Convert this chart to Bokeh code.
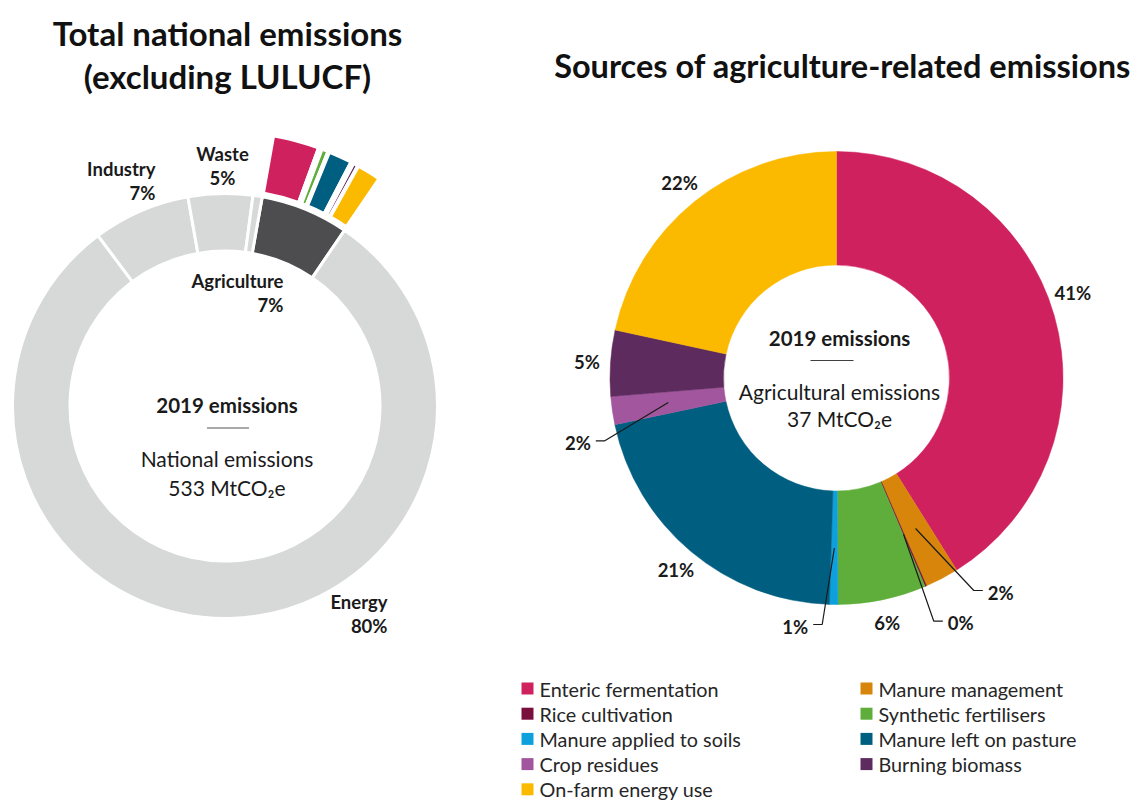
import numpy as np
from bokeh.plotting import figure
from bokeh.models import Range1d
from bokeh.embed import file_html
from bokeh.resources import INLINE
from bokeh.core.properties import value

# ---------------- data ----------------
national_sectors = ["Agriculture", "Energy", "Industry", "Waste", "Other"]
national_shares = [6.7, 80.3, 7.4, 4.9, 0.7]          # % of national emissions
national_pct_labels = ["7%", "80%", "7%", "5%", ""]
national_total = 533   # MtCO2e
ag_total = 37          # MtCO2e
year = 2019

ag_sources = ["Enteric fermentation", "Manure management", "Rice cultivation",
              "Synthetic fertilisers", "Manure applied to soils", "Manure left on pasture",
              "Crop residues", "Burning biomass", "On-farm energy use"]
ag_shares = [41.1, 2.4, 0.1, 6.3, 0.6, 21.2, 2.0, 4.7, 21.6]   # % of agriculture emissions
ag_pct_labels = ["41%", "2%", "0%", "6%", "1%", "21%", "2%", "5%", "22%"]

# ---------------- styles / layout ----------------
W, H = 1134, 803
FONT = "Lato"
LIGHT = "#D7D8D8"
DARK = "#4D4D4F"
TXT = "#1a1a1a"
national_colors = [DARK, LIGHT, LIGHT, LIGHT, LIGHT]
ag_colors = ["#D0215F", "#D8860B", "#7A0E3C", "#5FAE3B", "#0EA0DC",
             "#005E80", "#A2569E", "#5E2B5E", "#FBBA00"]


def Y(py):
    return H - py


p = figure(width=W, height=H, x_range=Range1d(0, W), y_range=Range1d(0, H),
           output_backend="svg", toolbar_location=None, min_border=0)
p.axis.visible = False
p.grid.visible = False
p.outline_line_color = None
p.background_fill_color = "white"


def wedge_angles(shares, start_cw, span=360.0):
    shares = np.asarray(shares, dtype=float)
    cum = np.concatenate([[0], np.cumsum(shares)]) / shares.sum() * span
    return start_cw + cum[:-1], start_cw + cum[1:]


def to_bokeh(cw1, cw2):
    return np.radians(90 - cw2), np.radians(90 - cw1)


# ---------------- left donut ----------------
LCX, LCY = 224.5, 405.5
L_IN, L_OUT = 155, 212.5
n_cw1, n_cw2 = wedge_angles(national_shares, 10.1, 360.0 * sum(national_shares) / 100)
sa, ea = to_bokeh(n_cw1, n_cw2)
p.annular_wedge(x=[LCX] * len(national_shares), y=[Y(LCY)] * len(national_shares),
                inner_radius=L_IN, outer_radius=L_OUT, start_angle=sa, end_angle=ea,
                fill_color=national_colors, line_color="white", line_width=3)

# exploded agriculture breakdown
ag_i = national_sectors.index("Agriculture")
e_cw1, e_cw2 = wedge_angles(ag_shares, n_cw1[ag_i], n_cw2[ag_i] - n_cw1[ag_i])
sa, ea = to_bokeh(e_cw1, e_cw2)
p.annular_wedge(x=[LCX] * len(ag_shares), y=[Y(LCY)] * len(ag_shares),
                inner_radius=216, outer_radius=275, start_angle=sa, end_angle=ea,
                fill_color=ag_colors, line_color="white", line_width=4)

# sector labels (name line + percentage line)
lab_pos = {  # anchor x, first-line y, align
    "Industry": (155, 168, "right"),
    "Waste": (222, 153, "center"),
    "Agriculture": (283, 280, "right"),
    "Energy": (387, 601, "right"),
}
for name, pct in zip(national_sectors, national_pct_labels):
    if name not in lab_pos:
        continue
    x, y, al = lab_pos[name]
    p.text(x=[x, x], y=[Y(y), Y(y + 24.5)], text=[name, pct], text_align=al,
           text_baseline="middle", text_font=value(FONT), text_font_style="bold",
           text_font_size="18.5px", text_color=TXT)

# center text left
p.text(x=[LCX + 2], y=[Y(404)], text=[f"{year} emissions"], text_align="center",
       text_baseline="middle", text_font=value(FONT), text_font_style="bold",
       text_font_size="20.5px", text_color=TXT)
p.segment(x0=[LCX - 18], y0=[Y(427.5)], x1=[LCX + 24], y1=[Y(427.5)],
          line_color="#8c8c8c", line_width=1.5)
p.text(x=[LCX + 2, LCX + 2], y=[Y(458), Y(487)],
       text=["National emissions", f"{national_total} MtCO\u2082e"], text_align="center",
       text_baseline="middle", text_font=value(FONT), text_font_size="21px",
       text_color=TXT)

# ---------------- right donut ----------------
RCX, RCY = 836, 377.5
R_IN, R_OUT = 113, 226.5
r_cw1, r_cw2 = wedge_angles(ag_shares, 0.0)
sa, ea = to_bokeh(r_cw1, r_cw2)
p.annular_wedge(x=[RCX] * len(ag_shares), y=[Y(RCY)] * len(ag_shares),
                inner_radius=R_IN, outer_radius=R_OUT, start_angle=sa, end_angle=ea,
                fill_color=ag_colors, line_color=ag_colors, line_width=0.5)

mid = np.radians((r_cw1 + r_cw2) / 2)
# leader-line labels: elbow offset from centre (px, screen), horizontal direction
leaders = {1: (137.3, 212.5, 1), 2: (97.3, 243.2, 1), 4: (-14.3, 246.5, -1), 6: (-231.7, 62.8, -1)}
label_nudge = {0: (-4, -16)}
for i, lab in enumerate(ag_pct_labels):
    if i in leaders:
        ex, ey, d = leaders[i]
        sx = RCX + 170 * np.sin(mid[i])
        sy = RCY - 170 * np.cos(mid[i])
        bx, by = RCX + ex, RCY + ey
        p.line(x=[sx, bx, bx + d * 9], y=[Y(sy), Y(by), Y(by)], line_color=TXT, line_width=1.2)
        p.text(x=[bx + d * 14], y=[Y(by + 2)], text=[lab], text_align="left" if d > 0 else "right",
               text_baseline="middle", text_font=value(FONT), text_font_style="bold",
               text_font_size="18.5px", text_color=TXT)
    else:
        nx, ny = label_nudge.get(i, (0, 0))
        lx = RCX + 250 * np.sin(mid[i]) + nx
        ly = RCY - 250 * np.cos(mid[i]) + ny
        p.text(x=[lx], y=[Y(ly)], text=[lab], text_align="center", text_baseline="middle",
               text_font=value(FONT), text_font_style="bold", text_font_size="18.5px",
               text_color=TXT)

# center text right
p.text(x=[RCX + 3], y=[Y(337)], text=[f"{year} emissions"], text_align="center",
       text_baseline="middle", text_font=value(FONT), text_font_style="bold",
       text_font_size="20.5px", text_color=TXT)
p.segment(x0=[RCX - 26], y0=[Y(360)], x1=[RCX + 17], y1=[Y(360)],
          line_color="#404040", line_width=1.2)
p.text(x=[RCX + 3, RCX + 3], y=[Y(391), Y(418)],
       text=["Agricultural emissions", f"{ag_total} MtCO\u2082e"], text_align="center",
       text_baseline="middle", text_font=value(FONT), text_font_size="21px",
       text_color=TXT)

# ---------------- titles ----------------
p.text(x=[227, 227], y=[Y(32), Y(75)], text=["Total national emissions", "(excluding LULUCF)"],
       text_align="center", text_baseline="middle", text_font=value(FONT),
       text_font_style="bold", text_font_size="33px", text_color="#111111")
p.text(x=[842], y=[Y(65)], text=["Sources of agriculture-related emissions"],
       text_align="center", text_baseline="middle", text_font=value(FONT),
       text_font_style="bold", text_font_size="32.5px", text_color="#111111")

# ---------------- legend ----------------
cols_x = [527, 866]
row0, dy = 688, 25.2
lx = [cols_x[i % 2] for i in range(len(ag_sources))]
ly = [Y(row0 + dy * (i // 2)) for i in range(len(ag_sources))]
p.rect(x=lx, y=ly, width=12, height=12, fill_color=ag_colors, line_color=None)
p.text(x=[x + 12 for x in lx], y=ly, text=ag_sources, text_align="left",
       text_baseline="middle", text_font=value(FONT), text_font_size="19.8px",
       text_color="#262626")

open("out.html", "w").write(file_html(p, INLINE))
